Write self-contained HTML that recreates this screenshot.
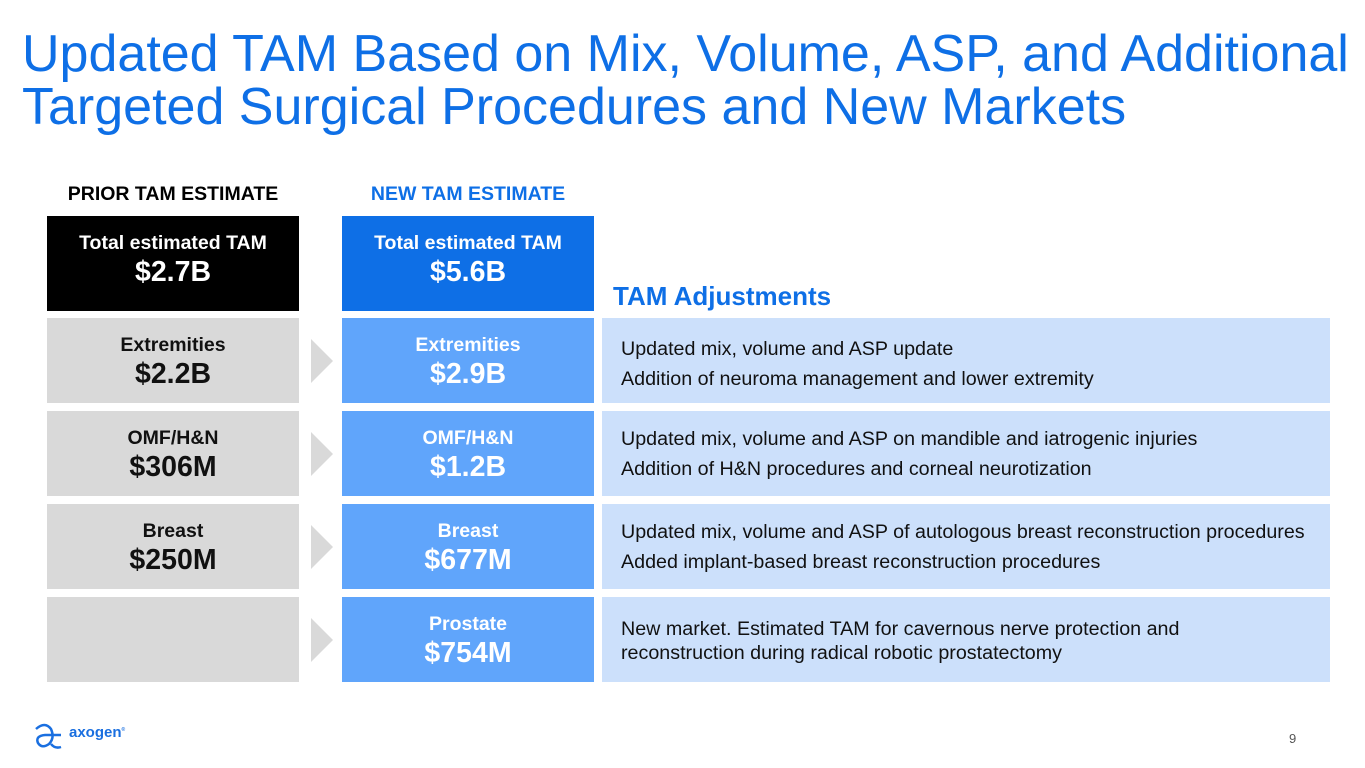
<!DOCTYPE html>
<html><head><meta charset="utf-8"><style>
body{margin:0;width:1365px;height:768px;background:#fff;font-family:"Liberation Sans",Arial,sans-serif;position:relative;overflow:hidden}
.a{position:absolute}
h1{position:absolute;left:22px;top:28px;margin:0;font-weight:normal;font-size:52px;line-height:53px;color:#0e6fe6;white-space:nowrap}
.hd{font-weight:bold;font-size:19.5px;text-align:center;top:183px;width:252px;white-space:nowrap}
.box{position:absolute;width:252px;height:85px;text-align:center;font-weight:bold;white-space:nowrap}
.box .l{font-size:19.5px;line-height:22px;margin-top:16px}
.box .v{font-size:28.5px;line-height:32px;margin-top:2px}
.g{background:#d9d9d9;color:#111;left:47px}
.b{background:#60a5fb;color:#fff;left:342px}
.r{position:absolute;left:602px;width:728px;height:85px;background:#cce0fb;font-size:19.7px;color:#111;white-space:nowrap}
.r div{position:absolute;left:19px}
.arr{position:absolute;left:311px;width:0;height:0;border-top:22px solid transparent;border-bottom:22px solid transparent;border-left:22px solid #d9d9d9}
</style></head><body>
<h1>Updated TAM Based on Mix, Volume, ASP, and Additional<br>Targeted Surgical Procedures and New Markets</h1>
<div class="a hd" style="left:47px;color:#000">PRIOR TAM ESTIMATE</div>
<div class="a hd" style="left:342px;color:#0e6fe6">NEW TAM ESTIMATE</div>
<div class="box" style="left:47px;top:216px;height:95px;background:#000;color:#fff"><div class="l">Total estimated TAM</div><div class="v">$2.7B</div></div>
<div class="box" style="left:342px;top:216px;height:95px;background:#0e6fe6;color:#fff"><div class="l">Total estimated TAM</div><div class="v">$5.6B</div></div>
<div class="a" style="left:613px;top:281px;font-size:26px;font-weight:bold;color:#0e6fe6">TAM Adjustments</div>

<div class="box g" style="top:318px"><div class="l">Extremities</div><div class="v">$2.2B</div></div>
<div class="arr" style="top:339px"></div>
<div class="box b" style="top:318px"><div class="l">Extremities</div><div class="v">$2.9B</div></div>
<div class="r" style="top:318px"><div style="top:20px">Updated mix, volume and ASP update</div><div style="top:50px">Addition of neuroma management and lower extremity</div></div>

<div class="box g" style="top:411px"><div class="l">OMF/H&amp;N</div><div class="v">$306M</div></div>
<div class="arr" style="top:432px"></div>
<div class="box b" style="top:411px"><div class="l">OMF/H&amp;N</div><div class="v">$1.2B</div></div>
<div class="r" style="top:411px"><div style="top:17px">Updated mix, volume and ASP on mandible and iatrogenic injuries</div><div style="top:47px">Addition of H&amp;N procedures and corneal neurotization</div></div>

<div class="box g" style="top:504px"><div class="l">Breast</div><div class="v">$250M</div></div>
<div class="arr" style="top:525px"></div>
<div class="box b" style="top:504px"><div class="l">Breast</div><div class="v">$677M</div></div>
<div class="r" style="top:504px"><div style="top:17px">Updated mix, volume and ASP of autologous breast reconstruction procedures</div><div style="top:47px">Added implant-based breast reconstruction procedures</div></div>

<div class="box g" style="top:597px"></div>
<div class="arr" style="top:618px"></div>
<div class="box b" style="top:597px"><div class="l">Prostate</div><div class="v">$754M</div></div>
<div class="r" style="top:597px"><div style="top:20px;line-height:24px">New market. Estimated TAM for cavernous nerve protection and<br>reconstruction during radical robotic prostatectomy</div></div>

<svg class="a" style="left:33px;top:720px" width="32" height="30"><path d="M3 9 Q12 1 18 9 Q22 18 16 24 Q9 29 5 23 Q2 16 12 15 L28 15 M18 24 Q22 29 28 27" fill="none" stroke="#1a6fe0" stroke-width="2.5"/></svg>
<div class="a" style="left:69px;top:724px;font-size:15px;font-weight:bold;color:#1a6fe0">axogen<sup style="font-size:5px">®</sup></div>
<div class="a" style="left:1289px;top:731px;font-size:13px;color:#555">9</div>
</body></html>
